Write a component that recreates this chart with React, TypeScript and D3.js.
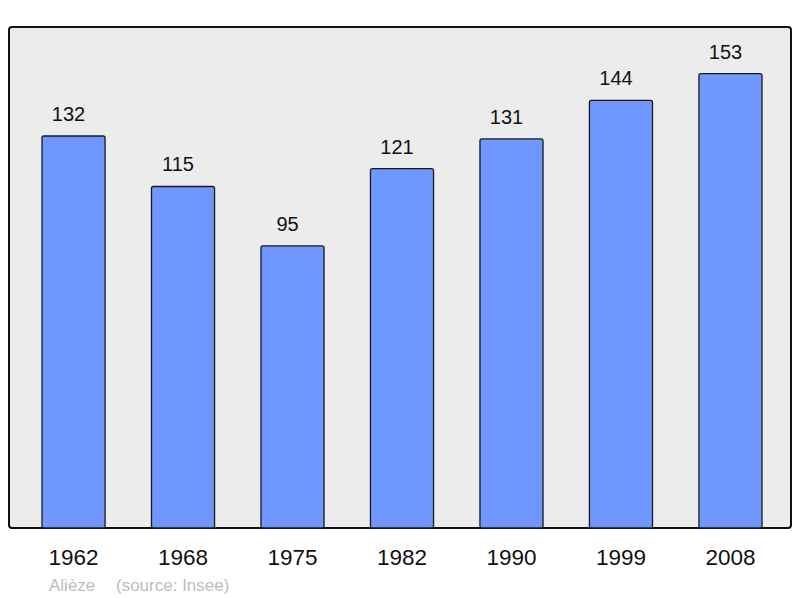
import { useEffect, useRef } from 'react'
import * as d3 from 'd3'

// Population par recensement
const YEARS = ['1962', '1968', '1975', '1982', '1990', '1999', '2008']
const POPULATION = [132, 115, 95, 121, 131, 144, 153]
const AUTHOR = 'Alièze'
const SOURCE = '(source: Insee)'

const W = 800
const H = 598
const FRAME = { left: 9, right: 791, top: 27, bottom: 528 }
const FONT = '"Liberation Sans", Arial, sans-serif'

export default function App() {
  const svgRef = useRef<SVGSVGElement | null>(null)

  useEffect(() => {
    if (!svgRef.current) return
    const svg = d3.select(svgRef.current)
    svg.selectAll('*').remove()

    const data = YEARS.map((year, i) => ({ year, value: POPULATION[i] }))

    const x = d3.scaleBand<string>()
      .domain(YEARS)
      .range([42, 762])
      .paddingInner(0.424)
      .paddingOuter(0)

    const y = d3.scaleLinear()
      .domain([0, 168.7])
      .range([FRAME.bottom, FRAME.top])

    // ── Frame ────────────────────────────────────────────────────────────────
    svg.append('rect')
      .attr('x', FRAME.left).attr('y', FRAME.top)
      .attr('width', FRAME.right - FRAME.left)
      .attr('height', FRAME.bottom - FRAME.top)
      .attr('rx', 3)
      .attr('fill', '#ececec')
      .attr('stroke', '#111').attr('stroke-width', 2)

    // ── Bars ─────────────────────────────────────────────────────────────────
    svg.selectAll('.bar').data(data).join('rect')
      .attr('class', 'bar')
      .attr('x', (d) => x(d.year)!)
      .attr('width', x.bandwidth())
      .attr('y', (d) => y(d.value))
      .attr('height', (d) => y(0) - y(d.value))
      .attr('rx', 2)
      .attr('fill', '#7097ff')
      .attr('stroke', '#1a1a1a').attr('stroke-width', 1.3)

    // Value labels (a bit left of the bar centre, as in the original)
    svg.selectAll('.val').data(data).join('text')
      .attr('class', 'val')
      .attr('x', (d) => x(d.year)! + x.bandwidth() / 2 - 5)
      .attr('y', (d) => y(d.value) - 15)
      .attr('text-anchor', 'middle')
      .attr('font-family', FONT).attr('font-size', 20)
      .attr('fill', '#111')
      .text((d) => d.value)

    // Year labels
    svg.selectAll('.year').data(data).join('text')
      .attr('class', 'year')
      .attr('x', (d) => x(d.year)! + x.bandwidth() / 2)
      .attr('y', 565)
      .attr('text-anchor', 'middle')
      .attr('font-family', FONT).attr('font-size', 22.5)
      .attr('fill', '#111')
      .text((d) => d.year)

    // Footer
    svg.append('text')
      .attr('x', 49).attr('y', 590.5)
      .attr('font-family', FONT).attr('font-size', 17)
      .attr('fill', '#bdbdbd')
      .text(AUTHOR)
    svg.append('text')
      .attr('x', 116).attr('y', 590.5)
      .attr('font-family', FONT).attr('font-size', 17)
      .attr('fill', '#bdbdbd')
      .text(SOURCE)
  }, [])

  return (
    <div style={{ position: 'fixed', left: 0, top: 0, width: W, height: H, background: '#fff' }}>
      <svg ref={svgRef} width={W} height={H} style={{ display: 'block' }} />
    </div>
  )
}
